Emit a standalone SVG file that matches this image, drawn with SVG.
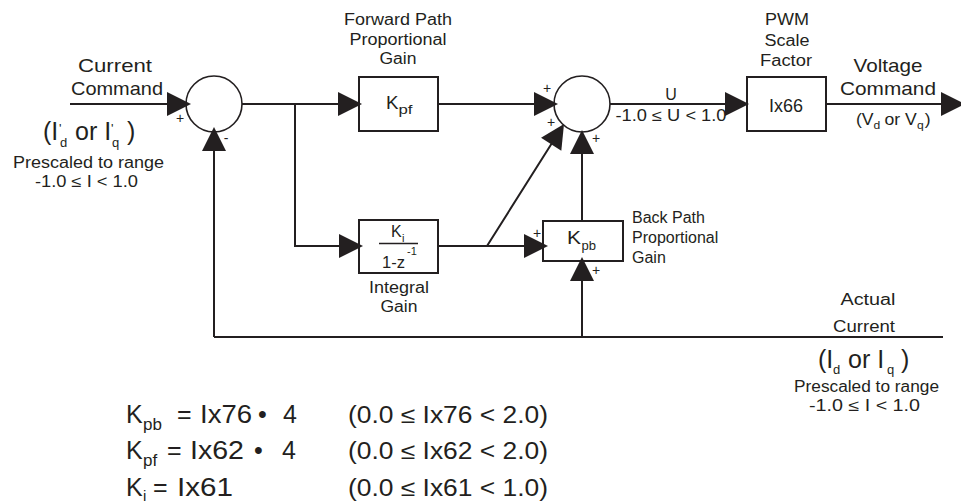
<svg xmlns="http://www.w3.org/2000/svg" width="961" height="504" viewBox="0 0 961 504">
<defs>
<style>
.ln{stroke:#231f20;stroke-width:2;fill:none}
.bx{stroke:#231f20;stroke-width:2;fill:#fff}
.cr{stroke:#231f20;stroke-width:1.6;fill:#fff}
text{font-family:"Liberation Sans",Arial,sans-serif;fill:#231f20}
.m{text-anchor:middle}
.s{font-size:14px}
.t15{font-size:15px}
.t16{font-size:16px}
.t18{font-size:18px}
.t19{font-size:19px}
.t24{font-size:25px}
.sub{font-size:13px}
.eq{font-size:25px}
.eqs{font-size:17px}
.rg{font-size:23px}
</style>
<path id="ah" d="M0,0 L-24,-12 L-24,12 Z" fill="#231f20"/>
</defs>
<rect width="961" height="504" fill="#fff"/>

<g id="sum1">
<circle class="cr" cx="214" cy="104" r="28"/>
<text class="s m" x="180" y="123">+</text>
<text class="s m" x="226" y="143">-</text>
</g>

<g id="kpf">
<rect class="bx" x="359" y="77" width="79" height="54"/>
<text class="t18" x="386" y="109" textLength="12.5" lengthAdjust="spacingAndGlyphs">K</text>
<text class="sub" x="398.5" y="114" textLength="14" lengthAdjust="spacingAndGlyphs">pf</text>
<text class="t16 m" x="398" y="25" textLength="108" lengthAdjust="spacingAndGlyphs">Forward Path</text>
<text class="t16 m" x="398" y="45" textLength="97" lengthAdjust="spacingAndGlyphs">Proportional</text>
<text class="t16 m" x="398" y="64" textLength="37" lengthAdjust="spacingAndGlyphs">Gain</text>
</g>

<g id="sum2">
<circle class="cr" cx="582" cy="104" r="28"/>
<text class="s m" x="547" y="93">+</text>
<text class="s m" x="551" y="127">+</text>
<text class="s m" x="596" y="143">+</text>
</g>

<g id="ix66">
<rect class="bx" x="747" y="77" width="79" height="54"/>
<text class="t18 m" x="786" y="112" textLength="34" lengthAdjust="spacingAndGlyphs">Ix66</text>
<text class="t16 m" x="787" y="25" textLength="44" lengthAdjust="spacingAndGlyphs">PWM</text>
<text class="t16 m" x="787" y="46" textLength="45" lengthAdjust="spacingAndGlyphs">Scale</text>
<text class="t16 m" x="786" y="66" textLength="52" lengthAdjust="spacingAndGlyphs">Factor</text>
</g>

<g id="integral">
<rect class="bx" x="359" y="220" width="79" height="53"/>
<text class="t16" x="391" y="237">K</text>
<text style="font-size:11px" x="402" y="242">i</text>
<line class="ln" x1="379" y1="243.5" x2="418" y2="243.5" style="stroke-width:1.6"/>
<text class="t16" x="382" y="268" textLength="23" lengthAdjust="spacingAndGlyphs">1-z</text>
<text style="font-size:11px" x="407" y="255">-1</text>
<text class="t16 m" x="399" y="293" textLength="60" lengthAdjust="spacingAndGlyphs">Integral</text>
<text class="t16 m" x="399" y="312" textLength="37" lengthAdjust="spacingAndGlyphs">Gain</text>
</g>

<g id="kpb">
<rect class="bx" x="543" y="221" width="80" height="40"/>
<text class="t18" x="567" y="244" textLength="14" lengthAdjust="spacingAndGlyphs">K</text>
<text class="sub" x="581.5" y="250" textLength="14.5" lengthAdjust="spacingAndGlyphs">pb</text>
<text class="s m" x="537" y="238">+</text>
<text class="s m" x="596" y="275">+</text>
<text class="t16" x="632" y="223">Back Path</text>
<text class="t16" x="632" y="243">Proportional</text>
<text class="t16" x="632" y="263">Gain</text>
</g>

<g id="connectors">
<path class="ln" d="M70,104 H170 M242,104 H341 M438,104 H535 M610,104 H727 M826,104 H943 M295,104 V246 H341 M438,246 H526 M487,246 L552,143 M582,221 V153 M214,337 H943 M214,337 V150 M582,337 V279"/>
<use href="#ah" transform="translate(191,104)"/>
<use href="#ah" transform="translate(214,127) rotate(-90)"/>
<use href="#ah" transform="translate(362,104)"/>
<use href="#ah" transform="translate(558,104)"/>
<use href="#ah" transform="translate(564,124) rotate(-57.7)"/>
<use href="#ah" transform="translate(582,130) rotate(-90)"/>
<use href="#ah" transform="translate(749,104)"/>
<use href="#ah" transform="translate(965,104)"/>
<use href="#ah" transform="translate(363,246)"/>
<use href="#ah" transform="translate(548,246)"/>
<use href="#ah" transform="translate(582,257) rotate(-90)"/>
</g>

<g id="input-label">
<text class="t19 m" x="115" y="72" textLength="74" lengthAdjust="spacingAndGlyphs">Current</text>
<text class="t19 m" x="117" y="95" textLength="92" lengthAdjust="spacingAndGlyphs">Command</text>
<text class="t24" x="43" y="140">(I</text>
<text class="sub" x="59" y="133">'</text>
<text class="sub" x="60" y="147">d</text>
<text class="t24" x="75" y="140">or I</text>
<text class="sub" x="111" y="133">'</text>
<text class="sub" x="112" y="147">q</text>
<text class="t24" x="127" y="140">)</text>
<text class="t16 m" x="88.5" y="168" textLength="151" lengthAdjust="spacingAndGlyphs">Prescaled to range</text>
<text class="t16 m" x="86.5" y="187" textLength="103" lengthAdjust="spacingAndGlyphs">-1.0 ≤ I &lt; 1.0</text>
</g>

<g id="u-label">
<text class="t16 m" x="671" y="100">U</text>
<text class="t16 m" x="671" y="121" textLength="111" lengthAdjust="spacingAndGlyphs">-1.0 ≤ U &lt; 1.0</text>
</g>

<g id="output-label">
<text class="t19 m" x="888" y="72" textLength="69" lengthAdjust="spacingAndGlyphs">Voltage</text>
<text class="t19 m" x="888" y="95" textLength="96" lengthAdjust="spacingAndGlyphs">Command</text>
<g transform="translate(856,0) scale(1.1,1) translate(-856,0)">
<text class="t16" x="856" y="125">(V</text>
<text style="font-size:11px" x="872" y="129">d</text>
<text class="t16" x="882" y="125">or V</text>
<text style="font-size:11px" x="911.5" y="129">q</text>
<text class="t16" x="918.5" y="125">)</text>
</g>
</g>

<g id="feedback-label">
<text class="t16 m" x="868" y="305" textLength="55" lengthAdjust="spacingAndGlyphs">Actual</text>
<text class="t16 m" x="864" y="332" textLength="62" lengthAdjust="spacingAndGlyphs">Current</text>
<text class="t24" x="818" y="368">(I</text>
<text class="sub" x="833" y="374">d</text>
<text class="t24" x="848" y="368">or I</text>
<text class="sub" x="887" y="374">q</text>
<text class="t24" x="901" y="368">)</text>
<text class="t16 m" x="866.5" y="392" textLength="145" lengthAdjust="spacingAndGlyphs">Prescaled to range</text>
<text class="t16 m" x="864.5" y="411" textLength="111" lengthAdjust="spacingAndGlyphs">-1.0 ≤ I &lt; 1.0</text>
</g>

<g id="equations">
<text class="eq" x="126" y="423">K</text>
<text class="eqs" x="143" y="430">pb</text>
<text class="eq" x="177" y="423">=</text>
<text class="eq" x="200" y="423" textLength="52" lengthAdjust="spacingAndGlyphs">Ix76</text>
<text class="eq" x="258" y="423">•</text>
<text class="eq" x="283" y="423">4</text>
<text class="rg" x="348" y="423" textLength="200" lengthAdjust="spacingAndGlyphs">(0.0 ≤ Ix76 &lt; 2.0)</text>

<text class="eq" x="126" y="459">K</text>
<text class="eqs" x="143" y="466">pf</text>
<text class="eq" x="167" y="459">=</text>
<text class="eq" x="190" y="459" textLength="54" lengthAdjust="spacingAndGlyphs">Ix62</text>
<text class="eq" x="254" y="459">•</text>
<text class="eq" x="282" y="459">4</text>
<text class="rg" x="348" y="459" textLength="200" lengthAdjust="spacingAndGlyphs">(0.0 ≤ Ix62 &lt; 2.0)</text>

<text class="eq" x="126" y="496">K</text>
<text style="font-size:15px" x="143" y="501">i</text>
<text class="eq" x="153" y="496">=</text>
<text class="eq" x="177" y="496" textLength="56" lengthAdjust="spacingAndGlyphs">Ix61</text>
<text class="rg" x="348" y="496" textLength="200" lengthAdjust="spacingAndGlyphs">(0.0 ≤ Ix61 &lt; 1.0)</text>
</g>
</svg>
